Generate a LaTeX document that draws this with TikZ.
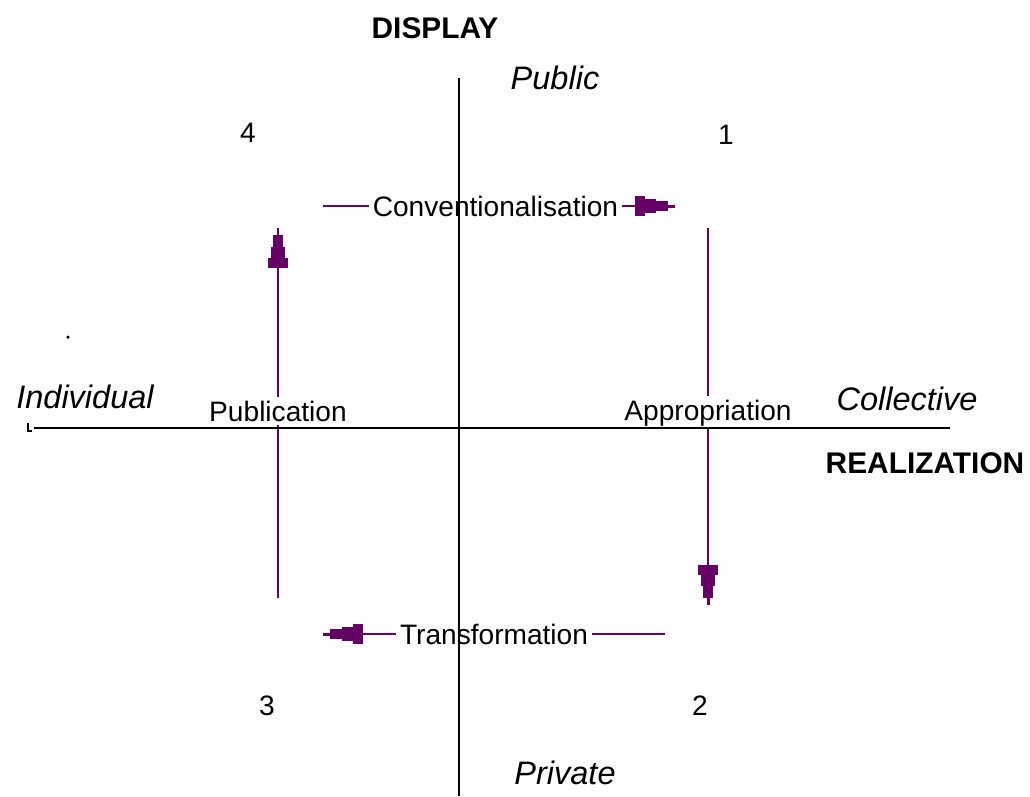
\documentclass[tikz,border=0pt]{standalone}
\usepackage{fontspec}
\setmainfont{Liberation Sans}
\usetikzlibrary{arrows.meta}
\definecolor{flowpurple}{RGB}{102,0,102}
\tikzset{
    axisline/.style={line width=1.1pt, black},
    % stepped arrow head, widest block at the back
    flow/.style={draw=flowpurple, line width=1.1pt,
        -{Rectangle[length=5.7pt,width=11.2pt,sep=0pt]
          Rectangle[length=6.2pt,width=8pt,sep=0pt]
          Rectangle[length=6.8pt,width=5.4pt,sep=0pt]
          Rectangle[length=4pt,width=1.7pt,sep=0pt]}},
    flowlabel/.style={fill=white, inner sep=2pt, font=\fontsize{16}{19}\selectfont},
    pole/.style={font=\fontsize{18.5}{22}\selectfont\itshape},
    dimension/.style={font=\fontsize{17}{20}\selectfont\bfseries},
    corner/.style={font=\fontsize{16}{19}\selectfont},
}

\begin{document}
\begin{tikzpicture}[x=0.02cm, y=-0.02cm]
        \useasboundingbox (0,0) rectangle (1030,796);
        % ends of the four flows
        \coordinate (convA) at (323,206);
        \coordinate (convB) at (675,206);
        \coordinate (apprA) at (708,228);
        \coordinate (apprB) at (708,605);
        \coordinate (trfA)  at (665,634);
        \coordinate (trfB)  at (323,634);
        \coordinate (pubA)  at (278,598);
        \coordinate (pubB)  at (278,228);
        \draw[flow] (convA) -- (convB) node[flowlabel, pos=.49] (conv) {Conventionalisation};
        \draw[flow] (apprA) -- (apprB) node[flowlabel, pos=.49] (appr) {Appropriation};
        \draw[flow] (trfA) -- (trfB) node[flowlabel, midway] (trf) {Transformation};
        \draw[flow] (pubA) -- (pubB) node[flowlabel, pos=.505] (pub) {Publication};
        % axes
        \coordinate (ytop) at (459,78);
        \coordinate (ybot) at (459,796);
        \coordinate (xleft) at (34,428);
        \coordinate (xright) at (950,428);
        \draw[axisline] (ytop) -- (ybot);
        \draw[axisline] (xleft) -- (xright);
        \draw[line width=0.8pt] (28,423) -- (28,431) -- (32,431);
        \fill (68,337) circle(1pt);
        % poles and dimensions
        \node[dimension] (display) at (435,28) {DISPLAY};
        \node[dimension] (realization) at (925,463) {REALIZATION};
        \node[pole] (public) at (555,78) {Public};
        \node[pole] (private) at (565,773) {Private};
        \node[pole] (individual) at (85,397) {Individual};
        \node[pole] (collective) at (907,399) {Collective};
        \foreach \N/\X/\Y in {1/726/135, 2/700/706, 3/267/706, 4/248/133}
            {\node[corner] (c\N) at (\X,\Y) {\N};}
\end{tikzpicture}
\end{document}
